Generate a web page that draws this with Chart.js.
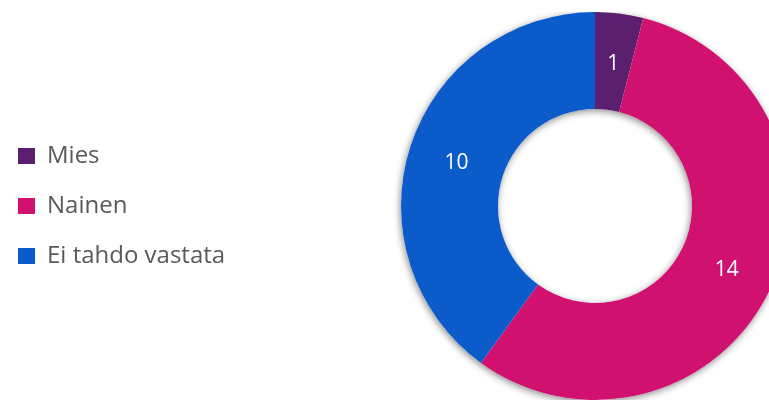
<!DOCTYPE html>
<html>
<head>
<meta charset="utf-8">
<script src="https://cdn.jsdelivr.net/npm/chart.js@4.4.1/dist/chart.umd.min.js"></script>
<style>
  html, body { margin: 0; padding: 0; background: #fff; }
  #wrap { position: relative; width: 769px; height: 400px; overflow: hidden; }
  /* canvas is wider than the window so the ring gets cut on the right like the original */
  #chart { position: absolute; left: -8px; top: 12px; }
</style>
</head>
<body>
<div id="wrap">
  <canvas id="chart" width="1206" height="400"></canvas>
</div>
<script>
// data
const labels = ['Mies', 'Nainen', 'Ei tahdo vastata']
const values = [1, 14, 10]
const colors = ['#5c1f70', '#d01170', '#0b5bcb']

// soft shadow under the ring, uses the arc geometry from chart.js
const ringShadow = {
  id: 'ringShadow',
  beforeDatasetsDraw(chart) {
    const arc = chart.getDatasetMeta(0).data[0]
    if (!arc) return
    const ctx = chart.ctx
    ctx.save()
    ctx.shadowColor = 'rgba(0,0,0,0.45)'
    ctx.shadowBlur = 7
    ctx.shadowOffsetX = -1
    ctx.shadowOffsetY = 2
    ctx.fillStyle = '#ffffff'
    ctx.beginPath()
    ctx.arc(arc.x, arc.y, arc.outerRadius, 0, Math.PI * 2)
    ctx.arc(arc.x, arc.y, arc.innerRadius, 0, Math.PI * 2, true)
    ctx.fill('evenodd')
    ctx.restore()
  }
}

// value labels in the middle of each slice
const sliceLabels = {
  id: 'sliceLabels',
  afterDatasetsDraw(chart) {
    const ctx = chart.ctx
    const meta = chart.getDatasetMeta(0)
    ctx.save()
    ctx.fillStyle = '#ffffff'
    ctx.font = '21px "Open Sans", sans-serif'
    ctx.textAlign = 'center'
    ctx.textBaseline = 'middle'
    meta.data.forEach((arc, i) => {
      const p = arc.tooltipPosition()
      ctx.fillText(String(values[i]), p.x, p.y + 2)
    })
    ctx.restore()
  }
}

new Chart(document.getElementById('chart'), {
  type: 'doughnut',
  data: {
    labels: labels,
    datasets: [{
      data: values,
      backgroundColor: colors,
      borderWidth: 0,
      hoverOffset: 0
    }]
  },
  options: {
    responsive: false,
    animation: false,
    cutout: '50%',
    layout: { padding: { top: 0, bottom: 12, left: 0, right: 0 } },
    plugins: {
      tooltip: { enabled: false },
      legend: {
        position: 'chartArea',
        align: 'center',
        labels: {
          boxWidth: 17,
          boxHeight: 16,
          padding: 26,
          color: '#595959',
          font: { family: '"Open Sans", sans-serif', size: 24 }
        }
      }
    }
  },
  plugins: [ringShadow, sliceLabels]
})
</script>
</body>
</html>
